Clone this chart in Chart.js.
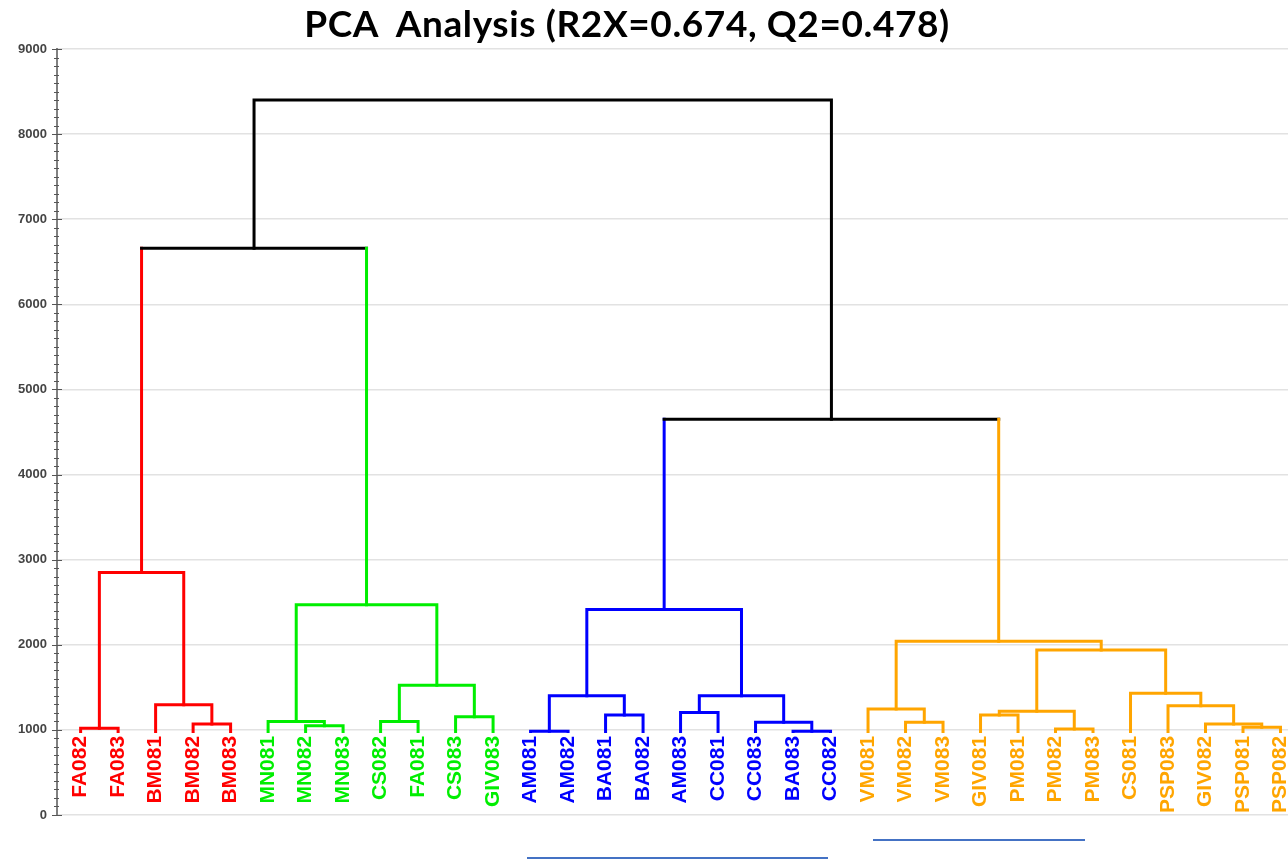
<!DOCTYPE html>
<html lang="en">
<head>
    <meta charset="UTF-8">
    <title>PCA Analysis dendrogram</title>
    <script src="https://cdn.jsdelivr.net/npm/chart.js"></script>
    <style>
        body {
            margin: 0;
            background: #ffffff;
        }

        #wrap {
            position: relative;
            width: 1288px;
            height: 860px;
            overflow: hidden;
        }

        #title {
            position: absolute;
            left: 0;
            top: 1px;
            width: 1254px;
            text-align: center;
            font-family: 'Lato', sans-serif;
            font-weight: 700;
            font-size: 37px;
            letter-spacing: 0.6px;
            line-height: 44px;
            color: #000;
            z-index: 2;
        }

        #chart {
            position: absolute;
            left: 0;
            top: 0;
        }

        .mark {
            position: absolute;
            height: 2px;
            background: #4472c4;
        }
    </style>
</head>
<body>
    <div id="wrap">
        <div id="title">PCA&nbsp; Analysis (R2X=0.674, Q2=0.478)</div>
        <canvas id="chart" width="1288" height="860"></canvas>
        <div class="mark" style="left:527px; top:857px; width:301px;"></div>
        <div class="mark" style="left:873px; top:839px; width:212px;"></div>
    </div>

    <script>
        // leaves in plot order
        const leafLabels = [
            'FA082', 'FA083', 'BM081', 'BM082', 'BM083',
            'MN081', 'MN082', 'MN083', 'CS082', 'FA081', 'CS083', 'GIV083',
            'AM081', 'AM082', 'BA081', 'BA082', 'AM083', 'CC081', 'CC083', 'BA083', 'CC082',
            'VM081', 'VM082', 'VM083', 'GIV081', 'PM081', 'PM082', 'PM083', 'CS081', 'PSP083', 'GIV082', 'PSP081', 'PSP082'
        ];
        // how many leaves in each coloured cluster, left to right
        const groupSizes = [5, 7, 9, 12];
        // height where the leaf stems start
        const leafHeight = 980;

        // linkage: [child a, child b, height]; leaves are 0..32, merge k becomes node 33+k
        const merges = [
            [0, 1, 1020],      // 33
            [3, 4, 1070],      // 34
            [2, 34, 1295],     // 35
            [33, 35, 2850],    // 36
            [6, 7, 1050],      // 37
            [5, 37, 1100],     // 38
            [8, 9, 1100],      // 39
            [10, 11, 1155],    // 40
            [39, 40, 1525],    // 41
            [38, 41, 2470],    // 42
            [36, 42, 6660],    // 43
            [12, 13, 985],     // 44
            [14, 15, 1175],    // 45
            [44, 45, 1400],    // 46
            [16, 17, 1205],    // 47
            [19, 20, 985],     // 48
            [18, 48, 1090],    // 49
            [47, 49, 1400],    // 50
            [46, 50, 2415],    // 51
            [22, 23, 1090],    // 52
            [21, 52, 1245],    // 53
            [24, 25, 1175],    // 54
            [26, 27, 1010],    // 55
            [54, 55, 1220],    // 56
            [31, 32, 1030],    // 57
            [30, 57, 1070],    // 58
            [29, 58, 1285],    // 59
            [28, 59, 1430],    // 60
            [56, 60, 1940],    // 61
            [53, 61, 2040],    // 62
            [51, 62, 4650],    // 63
            [43, 63, 8400]     // 64
        ];

        const yTicks = [0, 1000, 2000, 3000, 4000, 5000, 6000, 7000, 8000, 9000];

        // styles
        const groupColors = ['#ff0000', '#00ee00', '#0000ff', '#ffa500'];
        const joinColor = '#000000';
        const labelTop = 930;

        // build node positions from the linkage
        const nodeX = [];
        const nodeH = [];
        const nodeGroup = [];
        let g = 0, count = 0;
        leafLabels.forEach((_, i) => {
            nodeX.push(i);
            nodeH.push(leafHeight);
            nodeGroup.push(g);
            count++;
            if (count === groupSizes[g]) { g++; count = 0; }
        });
        merges.forEach(([a, b, h]) => {
            nodeX.push((nodeX[a] + nodeX[b]) / 2);
            nodeH.push(h);
            nodeGroup.push(nodeGroup[a] === nodeGroup[b] ? nodeGroup[a] : -1);
        });
        const colorOf = id => nodeGroup[id] < 0 ? joinColor : groupColors[nodeGroup[id]];

        const datasets = merges.map(([a, b, h], k) => {
            const id = leafLabels.length + k;
            const cols = [colorOf(a), colorOf(id), colorOf(b)];
            return {
                data: [
                    { x: nodeX[a], y: nodeH[a] },
                    { x: nodeX[a], y: h },
                    { x: nodeX[b], y: h },
                    { x: nodeX[b], y: nodeH[b] }
                ],
                borderColor: cols[1],
                borderWidth: 3,
                borderCapStyle: 'square',
                borderJoinStyle: 'miter',
                pointRadius: 0,
                tension: 0,
                fill: false,
                segment: {
                    borderColor: ctx => cols[ctx.p0DataIndex]
                }
            };
        });

        // rotated leaf names and the small ticks on the y axis
        const extras = {
            id: 'extras',
            afterDatasetsDraw(chart) {
                const ctx = chart.ctx;
                const xs = chart.scales.x;
                const ys = chart.scales.y;
                ctx.save();
                ctx.font = 'bold 21px "Liberation Sans", Arial, sans-serif';
                ctx.textAlign = 'right';
                ctx.textBaseline = 'middle';
                leafLabels.forEach((name, i) => {
                    ctx.save();
                    ctx.translate(xs.getPixelForValue(i), ys.getPixelForValue(labelTop));
                    ctx.rotate(-Math.PI / 2);
                    ctx.fillStyle = colorOf(i);
                    ctx.fillText(name, 0, 0);
                    ctx.restore();
                });
                ctx.restore();
            },
            afterDraw(chart) {
                const ctx = chart.ctx;
                const ys = chart.scales.y;
                const x0 = chart.chartArea.left;
                ctx.save();
                ctx.strokeStyle = '#555555';
                ctx.lineWidth = 1;
                for (let v = 0; v <= 9000; v += 100) {
                    const y = Math.round(ys.getPixelForValue(v)) + 0.5;
                    const major = v % 1000 === 0;
                    ctx.beginPath();
                    ctx.moveTo(x0 - (major ? 5 : 3), y);
                    ctx.lineTo(x0 + (major ? 5 : 2), y);
                    ctx.stroke();
                }
                ctx.restore();
            }
        };

        new Chart(document.getElementById('chart'), {
            type: 'line',
            data: { datasets },
            plugins: [extras],
            options: {
                responsive: false,
                animation: false,
                layout: { padding: { top: 49, bottom: 45, left: 0, right: 0 } },
                plugins: {
                    legend: { display: false },
                    tooltip: { enabled: false },
                    title: { display: false }
                },
                scales: {
                    x: {
                        type: 'linear',
                        display: false,
                        min: -0.63,
                        max: 32.2
                    },
                    y: {
                        type: 'linear',
                        min: 0,
                        max: 9000,
                        afterFit: scale => { scale.width = 57; },
                        afterBuildTicks: scale => { scale.ticks = yTicks.map(v => ({ value: v })); },
                        ticks: {
                            padding: 10,
                            color: '#444444',
                            font: { family: '"Liberation Sans", Arial, sans-serif', size: 13, weight: 'bold' },
                            callback: v => String(v)
                        },
                        grid: {
                            color: '#e2e2e2',
                            lineWidth: 1.5,
                            drawTicks: false
                        },
                        border: { display: true, color: '#808080', width: 2 }
                    }
                }
            }
        });
    </script>
</body>
</html>
